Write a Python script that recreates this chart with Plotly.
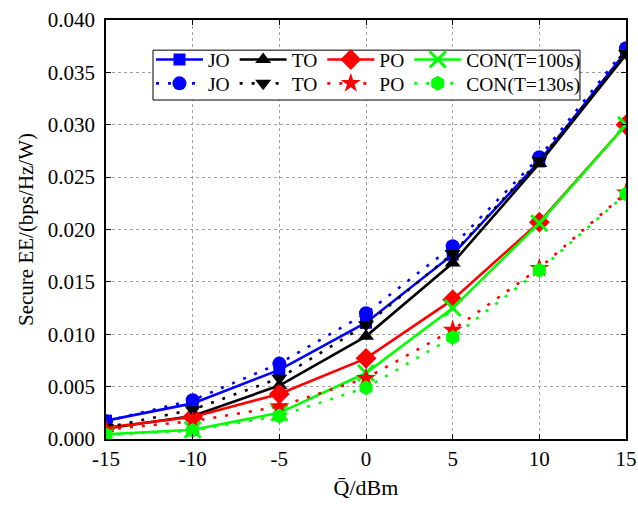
import plotly.graph_objects as go

q_dbm = [-15, -10, -5, 0, 5, 10, 15]
x_tick_labels = ["-15", "-10", "-5", "0", "5", "10", "15"]

jo_100 = [0.00175, 0.0034, 0.0066, 0.0111, 0.0176, 0.0265, 0.0370]
to_100 = [0.0010, 0.0022, 0.0051, 0.0098, 0.0168, 0.0263, 0.0367]
po_100 = [0.0011, 0.0021, 0.0043, 0.0077, 0.0133, 0.0207, 0.0300]
con_100 = [0.00045, 0.00088, 0.0025, 0.0063, 0.0125, 0.0206, 0.0300]

jo_130 = [0.0017, 0.0037, 0.0072, 0.0120, 0.0184, 0.0269, 0.0373]
to_130 = [0.0011, 0.0028, 0.0058, 0.0109, 0.0177, 0.0266, 0.0368]
po_130 = [0.0009, 0.0017, 0.0031, 0.0058, 0.0104, 0.0163, 0.0235]
con_130 = [0.0004, 0.0008, 0.0022, 0.0049, 0.0097, 0.0161, 0.0234]

BLUE, BLACK, RED, GREEN = "#0000ff", "#000000", "#ff0000", "#00ff00"
FONT = "Liberation Serif"

fig = go.Figure()

solid = [
    ("JO", jo_100, BLUE, "square", 12),
    ("TO", to_100, BLACK, "triangle-up", 14),
    ("PO", po_100, RED, "diamond", 16),
    ("CON(T=100s)", con_100, GREEN, "x-thin", 16),
]
dotted = [
    ("JO", jo_130, BLUE, "circle", 14),
    ("TO", to_130, BLACK, "triangle-down", 14),
    ("PO", po_130, RED, "star", 15),
    ("CON(T=130s)", con_130, GREEN, "hexagon", 15),
]

for name, ys, col, sym, sz in solid:
    fig.add_trace(go.Scatter(
        x=q_dbm, y=ys, name=name, mode="lines+markers",
        line=dict(color=col, width=2.6),
        marker=dict(symbol=sym, size=sz, color=col,
                    line=dict(color=col, width=3 if sym == "x-thin" else 0)),
        legend="legend",
    ))

for name, ys, col, sym, sz in dotted:
    fig.add_trace(go.Scatter(
        x=q_dbm, y=ys, name=name, mode="lines+markers",
        line=dict(color=col, width=2.6, dash="3px,9px"),
        marker=dict(symbol=sym, size=sz, color=col, line=dict(width=0)),
        legend="legend2",
    ))

legend_common = dict(
    orientation="h", bgcolor="rgba(0,0,0,0)", borderwidth=0,
    font=dict(family=FONT, size=19.5, color="black"),
    itemwidth=47, xanchor="left", yanchor="middle", traceorder="normal",
    itemclick=False, itemdoubleclick=False,
)

fig.update_layout(
    width=638, height=510,
    margin=dict(l=106, r=12, t=20, b=71),
    paper_bgcolor="white", plot_bgcolor="white",
    font=dict(family=FONT, size=21, color="black"),
    showlegend=True,
    legend=dict(x=0.0865, y=0.905, **legend_common),
    legend2=dict(x=0.0865, y=0.848, **legend_common),
    shapes=[dict(type="rect", xref="paper", yref="paper",
                 x0=0.0904, x1=0.9115, y0=0.809, y1=0.928,
                 line=dict(color="black", width=1), fillcolor="white",
                 layer="above")],
    xaxis=dict(
        range=[-15, 15], tickvals=q_dbm, ticktext=x_tick_labels,
        showgrid=True, gridcolor="#a0a0a0", griddash="3px,3px", gridwidth=1,
        zeroline=False, showline=True, linecolor="black", linewidth=1.5,
        mirror="ticks", ticks="inside", ticklen=5, tickcolor="black",
        tickfont=dict(family=FONT, size=21), automargin=False,
        title=dict(text="Q\u0304/dBm", font=dict(family=FONT, size=22), standoff=10),
    ),
    yaxis=dict(
        range=[0, 0.040], dtick=0.005, tickformat=".3f",
        showgrid=True, gridcolor="#a0a0a0", griddash="3px,3px", gridwidth=1,
        zeroline=False, showline=True, linecolor="black", linewidth=1.5,
        mirror="ticks", ticks="inside", ticklen=5, tickcolor="black",
        tickfont=dict(family=FONT, size=21), automargin=False,
        ticklabelstandoff=5,
        title=dict(text="Secure EE/(bps/Hz/W)", font=dict(family=FONT, size=21), standoff=8),
    ),
)

fig.write_html("out.html", config={"displayModeBar": False, "responsive": False},
               post_script="document.body.style.margin='0px';")
